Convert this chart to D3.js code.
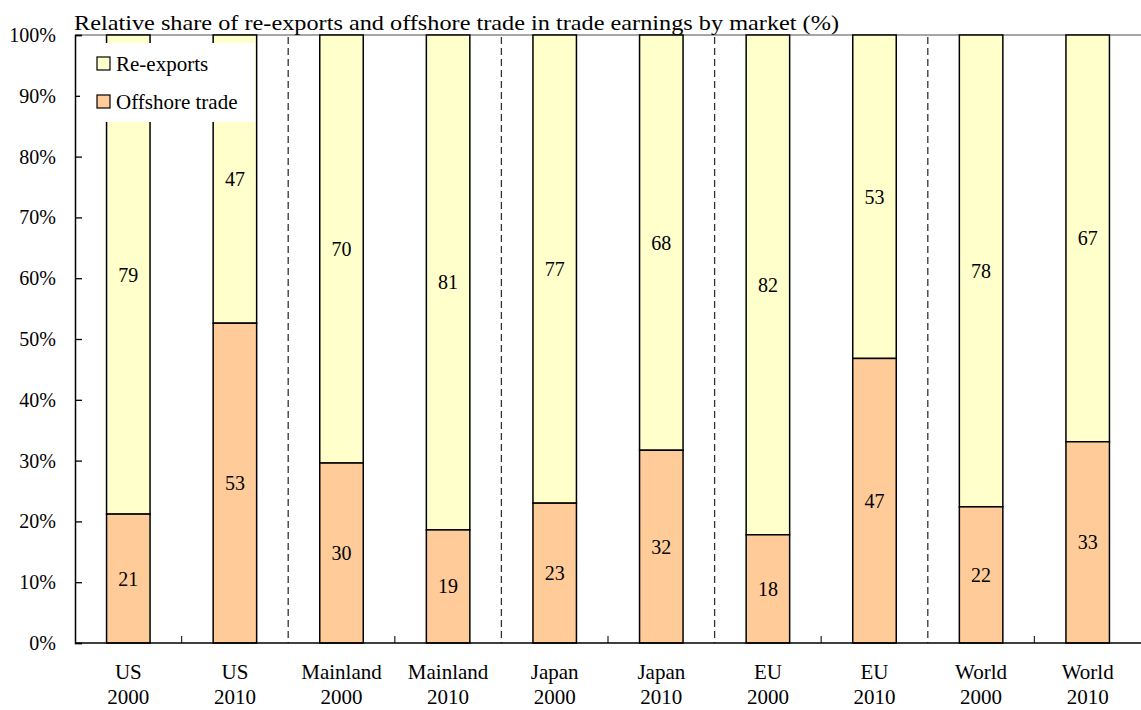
<!DOCTYPE html>
<html>
<head>
<meta charset="utf-8">
<script src="https://cdn.jsdelivr.net/npm/d3@7"></script>
<style>
  body { margin: 0; background: #fff; }
  text { font-family: "Liberation Serif", "Times New Roman", serif; fill: #000; }
</style>
</head>
<body>
<div id="chart"></div>
<script>
// data
var markets = ['US', 'US', 'Mainland', 'Mainland', 'Japan', 'Japan', 'EU', 'EU', 'World', 'World'];
var years = ['2000', '2010', '2000', '2010', '2000', '2010', '2000', '2010', '2000', '2010'];
var offshore = [21.2, 52.6, 29.6, 18.6, 23.0, 31.7, 17.8, 46.8, 22.4, 33.1];
var offshoreLabels = [21, 53, 30, 19, 23, 32, 18, 47, 22, 33];
var reexportLabels = [79, 47, 70, 81, 77, 68, 82, 53, 78, 67];
var yTicks = [0, 10, 20, 30, 40, 50, 60, 70, 80, 90, 100];
var seriesNames = ['Re-exports', 'Offshore trade'];
var colors = {'Re-exports': '#ffffcc', 'Offshore trade': '#ffcc99'};

var width = 1141, height = 710;
var margin = {top: 35, right: 0, bottom: 67, left: 75};
var w = width - margin.left - margin.right;
var h = height - margin.top - margin.bottom;

var cats = markets.map(function(m, i) { return m + ' ' + years[i]; });
var rows = cats.map(function(c, i) {
  return {cat: c, market: markets[i], year: years[i], off: offshore[i], re: 100 - offshore[i],
          offLabel: offshoreLabels[i], reLabel: reexportLabels[i]};
});

var svg = d3.select('#chart').append('svg')
  .attr('width', width)
  .attr('height', height);

var g = svg.append('g')
  .attr('transform', 'translate(' + margin.left + ',' + margin.top + ')');

var x = d3.scaleBand()
  .domain(cats)
  .range([0, w])
  .paddingInner(0.592)
  .paddingOuter(0.296);
var step = x.step();

var y = d3.scaleLinear().domain([0, 100]).range([h, 0]);

// title
svg.append('text')
  .attr('x', 74)
  .attr('y', 30)
  .attr('textLength', 765)
  .attr('lengthAdjust', 'spacingAndGlyphs')
  .style('font-size', '22px')
  .text('Relative share of re-exports and offshore trade in trade earnings by market (%)');

// top grey border
g.append('line')
  .attr('x1', 0).attr('x2', w)
  .attr('y1', 0).attr('y2', 0)
  .attr('stroke', '#888').attr('stroke-width', 1.5);

// dashed separators between markets, small ticks between years
var bounds = d3.range(1, cats.length);
g.selectAll('.sep')
  .data(bounds.filter(function(b) { return b % 2 == 0; }))
  .enter().append('line')
  .attr('class', 'sep')
  .attr('x1', function(b) { return b * step; })
  .attr('x2', function(b) { return b * step; })
  .attr('y1', 2).attr('y2', h)
  .attr('stroke', '#333').attr('stroke-width', 1.3)
  .attr('stroke-dasharray', '7,4');

g.selectAll('.xtick')
  .data(bounds.filter(function(b) { return b % 2 == 1; }))
  .enter().append('line')
  .attr('class', 'xtick')
  .attr('x1', function(b) { return b * step; })
  .attr('x2', function(b) { return b * step; })
  .attr('y1', h - 7).attr('y2', h)
  .attr('stroke', '#333').attr('stroke-width', 1.3);

// bars
var bars = g.selectAll('.bar').data(rows).enter().append('g').attr('class', 'bar');
bars.append('rect')
  .attr('x', function(d) { return x(d.cat); })
  .attr('width', x.bandwidth())
  .attr('y', function(d) { return y(100); })
  .attr('height', function(d) { return y(d.off) - y(100); })
  .attr('fill', colors['Re-exports'])
  .attr('stroke', '#000').attr('stroke-width', 1.5);
bars.append('rect')
  .attr('x', function(d) { return x(d.cat); })
  .attr('width', x.bandwidth())
  .attr('y', function(d) { return y(d.off); })
  .attr('height', function(d) { return h - y(d.off); })
  .attr('fill', colors['Offshore trade'])
  .attr('stroke', '#000').attr('stroke-width', 1.5);

bars.append('text')
  .attr('x', function(d) { return x(d.cat) + x.bandwidth() / 2; })
  .attr('y', function(d) { return y(d.off / 2); })
  .attr('text-anchor', 'middle')
  .attr('dy', '0.35em')
  .style('font-size', '20px')
  .text(function(d) { return d.offLabel; });
bars.append('text')
  .attr('x', function(d) { return x(d.cat) + x.bandwidth() / 2; })
  .attr('y', function(d) { return y(d.off + d.re / 2); })
  .attr('text-anchor', 'middle')
  .attr('dy', '0.35em')
  .style('font-size', '20px')
  .text(function(d) { return d.reLabel; });

// y axis
var yAxis = g.append('g')
  .call(d3.axisLeft(y).tickValues(yTicks).tickSize(-7).tickPadding(19)
    .tickFormat(function(d) { return d + '%'; }));
yAxis.attr('font-family', null);
yAxis.select('.domain').attr('stroke', '#000').attr('stroke-width', 1.5);
yAxis.selectAll('.tick line').attr('stroke', '#000').attr('stroke-width', 1.3);
yAxis.selectAll('.tick text')
  .style('font-size', '20px')
  .style('font-family', '"Liberation Serif", serif');

// x axis line
g.append('line')
  .attr('x1', 0).attr('x2', w)
  .attr('y1', h).attr('y2', h)
  .attr('stroke', '#000').attr('stroke-width', 1.5);

// x labels, two lines
var xl = g.selectAll('.xlab').data(rows).enter().append('text')
  .attr('class', 'xlab')
  .attr('text-anchor', 'middle')
  .attr('transform', function(d) { return 'translate(' + (x(d.cat) + x.bandwidth() / 2) + ',' + (h + 36) + ')'; })
  .style('font-size', '21px');
xl.append('tspan').attr('x', 0).attr('y', 0).text(function(d) { return d.market; });
xl.append('tspan').attr('x', 0).attr('y', 25).text(function(d) { return d.year; });

// legend
var legend = g.append('g').attr('transform', 'translate(5,8)');
legend.append('rect')
  .attr('width', 175).attr('height', 79)
  .attr('fill', '#fff');
var li = legend.selectAll('.li').data(seriesNames).enter().append('g')
  .attr('transform', function(d, i) { return 'translate(17,' + (14 + i * 38) + ')'; });
li.append('rect')
  .attr('width', 13).attr('height', 13)
  .attr('fill', function(d) { return colors[d]; })
  .attr('stroke', '#000').attr('stroke-width', 1.2);
li.append('text')
  .attr('x', 19).attr('y', 7)
  .attr('dy', '0.35em')
  .style('font-size', '21px')
  .text(function(d) { return d; });
</script>
</body>
</html>
